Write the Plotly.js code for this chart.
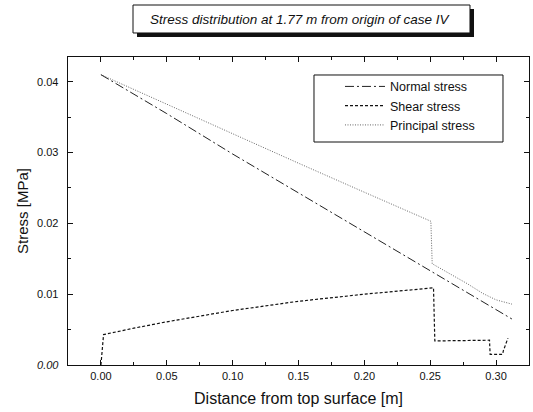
<!DOCTYPE html>
<html>
<head>
<meta charset="utf-8">
<script src="https://cdn.plot.ly/plotly-3.0.1.min.js"></script>
<style>
  html, body { margin: 0; padding: 0; background: #fff; }
  #chart { width: 533px; height: 412px; }
</style>
</head>
<body>
<div id="chart"></div>
<script>
// Distance from the top surface [m] and stress [MPa] for each component
const normalX = [0.000, 0.050, 0.100, 0.150, 0.200, 0.250, 0.280, 0.312];
const normalY = [0.0410, 0.0355, 0.0298, 0.0243, 0.0187, 0.0132, 0.0100, 0.0065];

const shearX = [0.000, 0.002, 0.025, 0.050, 0.100, 0.150, 0.200, 0.250, 0.2525, 0.2535, 0.295, 0.2955, 0.305, 0.3055, 0.309];
const shearY = [0.0000, 0.0043, 0.0052, 0.0061, 0.0077, 0.0090, 0.0100, 0.0109, 0.0109, 0.0034, 0.0035, 0.0015, 0.0015, 0.0020, 0.0038];

const principalX = [0.000, 0.050, 0.100, 0.150, 0.200, 0.2505, 0.2515, 0.278, 0.290, 0.300, 0.312];
const principalY = [0.0410, 0.0368, 0.0327, 0.0285, 0.0244, 0.0203, 0.0143, 0.0115, 0.0101, 0.0092, 0.0086];

const seriesNames = ['Normal stress', 'Shear stress', 'Principal stress'];

const xTicks = [0.00, 0.05, 0.10, 0.15, 0.20, 0.25, 0.30];
const xTickText = ['0.00', '0.05', '0.10', '0.15', '0.20', '0.25', '0.30'];
const yTicks = [0.00, 0.01, 0.02, 0.03, 0.04];
const yTickText = ['<i>0.00</i>', '0.01', '0.02', '0.03', '0.04'];

const traces = [
  {
    x: normalX, y: normalY, name: seriesNames[0], type: 'scatter', mode: 'lines',
    line: { color: '#222', width: 1, dash: '9px,3px,2px,3px' }
  },
  {
    x: shearX, y: shearY, name: seriesNames[1], type: 'scatter', mode: 'lines',
    line: { color: '#111', width: 1.2, dash: '3px,2px' }
  },
  {
    x: principalX, y: principalY, name: seriesNames[2], type: 'scatter', mode: 'lines',
    line: { color: '#555', width: 0.9, dash: '1px,1.5px' }
  }
];

const font = 'Liberation Sans, Arial, sans-serif';

const layout = {
  width: 533,
  height: 412,
  margin: { l: 68, r: 4, t: 57, b: 47 },
  paper_bgcolor: '#fff',
  plot_bgcolor: '#fff',
  font: { family: font, color: '#111', size: 11 },
  showlegend: true,
  legend: {
    x: 0.59, y: 0.952, xanchor: 'left', yanchor: 'top',
    borderwidth: 0, bgcolor: 'rgba(0,0,0,0)',
    font: { family: font, size: 12.5, color: '#111' },
    tracegroupgap: 0, itemwidth: 40
  },
  xaxis: {
    range: [-0.025, 0.325],
    tickvals: xTicks, ticktext: xTickText,
    ticks: 'inside', ticklen: 5, tickcolor: '#111',
    minor: { ticks: 'inside', dtick: 0.025, ticklen: 3, tickcolor: '#111' },
    showline: true, linecolor: '#111', linewidth: 1.3, mirror: 'ticks',
    showgrid: false, zeroline: false,
    tickfont: { family: font, size: 11, color: '#111' },
    title: { text: 'Distance from top surface [m]', font: { family: font, size: 16, color: '#111' }, standoff: 12 }
  },
  yaxis: {
    range: [0, 0.0435],
    tickvals: yTicks, ticktext: yTickText,
    ticks: 'inside', ticklen: 5, tickcolor: '#111',
    minor: { ticks: 'inside', dtick: 0.005, ticklen: 3, tickcolor: '#111' },
    showline: true, linecolor: '#111', linewidth: 1.3, mirror: 'ticks',
    showgrid: false, zeroline: false,
    ticklabelstandoff: 6,
    tickfont: { family: font, size: 11, color: '#111' },
    title: { text: 'Stress [MPa]', font: { family: font, size: 15, color: '#111' }, standoff: 4 }
  },
  shapes: [
    // drop shadow of the title box
    { type: 'rect', xref: 'paper', yref: 'paper', x0: 0.1497, x1: 0.8807, y0: 1.065, y1: 1.156,
      fillcolor: '#111', line: { width: 0 }, layer: 'above' },
    // title box
    { type: 'rect', xref: 'paper', yref: 'paper', x0: 0.141, x1: 0.872, y0: 1.078, y1: 1.1688,
      fillcolor: '#fff', line: { color: '#111', width: 1 }, layer: 'above' },
    // legend frame
    { type: 'rect', xref: 'paper', yref: 'paper', x0: 0.5336, x1: 0.9436, y0: 0.724, y1: 0.9416,
      fillcolor: 'rgba(0,0,0,0)', line: { color: '#111', width: 1 }, layer: 'above' }
  ],
  annotations: [
    { xref: 'paper', yref: 'paper', x: 0.5054, y: 1.122, xanchor: 'center', yanchor: 'middle',
      text: '<i>Stress distribution at 1.77 m from origin of case IV</i>', showarrow: false,
      font: { family: font, size: 13.5, color: '#111' } }
  ]
};

Plotly.newPlot('chart', traces, layout, { displayModeBar: false, staticPlot: true });
</script>
</body>
</html>
